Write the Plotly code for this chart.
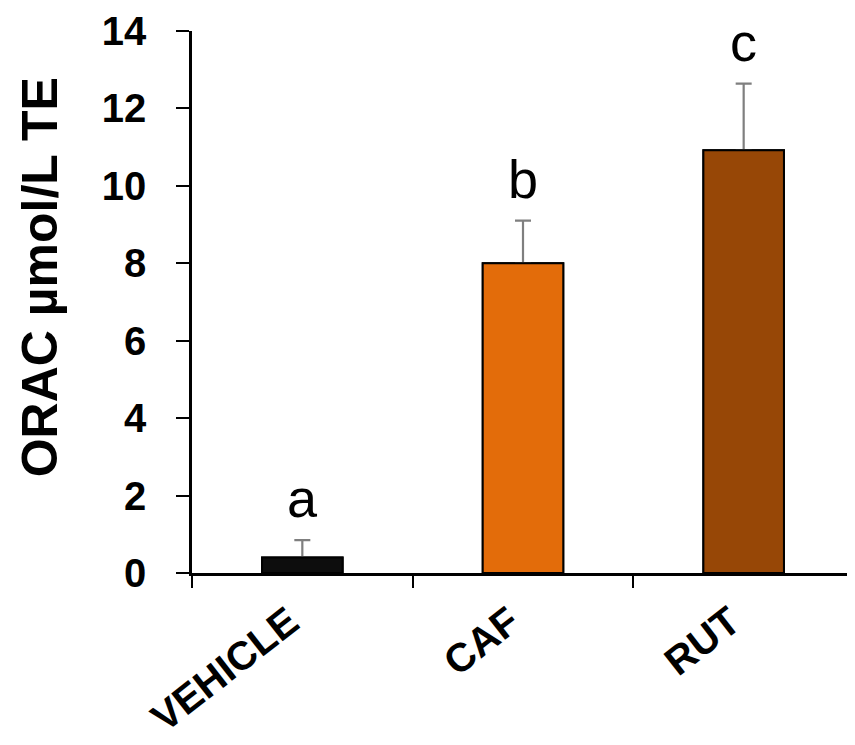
import plotly.graph_objects as go

categories = ["VEHICLE", "CAF", "RUT"]
values = [0.4, 8.0, 10.92]
errors = [0.45, 1.1, 1.72]
letters = ["a", "b", "c"]
colors = ["#0d0d0d", "#E36C0A", "#974706"]
y_ticks = [0, 2, 4, 6, 8, 10, 12, 14]

FONT = "Liberation Sans, Arial, Helvetica, sans-serif"
BAR_W = 0.365

fig = go.Figure()
# bars with the upper error bars
fig.add_trace(go.Bar(
    x=categories, y=values,
    marker=dict(color=colors, line=dict(color="#000000", width=2)),
    width=BAR_W,
    error_y=dict(type="data", array=errors, visible=True, symmetric=False,
                 arrayminus=[0, 0, 0], color="#7f7f7f", thickness=2.2, width=8),
    showlegend=False, hoverinfo="skip",
))
# same bars again on top, hiding the lower caps of the error bars
fig.add_trace(go.Bar(
    x=categories, y=values,
    marker=dict(color=colors, line=dict(color="#000000", width=2)),
    width=BAR_W, showlegend=False,
))

for c, v, e, t in zip(categories, values, errors, letters):
    fig.add_annotation(x=c, y=v + e, text=t, showarrow=False, xanchor="center",
                       yanchor="bottom", yshift=10,
                       font=dict(family=FONT, size=54, color="#000000"))

fig.add_annotation(xref="paper", yref="paper", x=-0.23, y=0.545,
                   text="ORAC µmol/L TE", textangle=-90, showarrow=False,
                   xanchor="center", yanchor="middle",
                   font=dict(family=FONT, size=50, color="#000000", weight="bold"))

# the page body has an 8 px margin, so the figure is drawn 8 px in from the corner
fig.update_layout(
    width=847, height=737,
    margin=dict(l=184, r=1, t=23, b=172),
    plot_bgcolor="white", paper_bgcolor="white",
    barmode="overlay",
)
fig.update_xaxes(
    type="category", tickson="boundaries", automargin=False,
    showline=True, linecolor="#000000", linewidth=2.5,
    ticks="outside", ticklen=12, tickwidth=2, tickcolor="#000000",
    tickangle=-38, ticklabelstandoff=7, ticklabelshift=-13,
    tickfont=dict(family=FONT, size=40, color="#000000", weight="bold"),
    showgrid=False, zeroline=False,
)
fig.update_yaxes(
    range=[0, 14], tickvals=y_ticks, automargin=False,
    showline=True, linecolor="#000000", linewidth=2.5,
    ticks="outside", ticklen=13, tickwidth=2, tickcolor="#000000",
    ticklabelstandoff=22,
    tickfont=dict(family=FONT, size=40, color="#000000", weight="bold"),
    showgrid=False, zeroline=False,
)

fig.write_html("out.html")
